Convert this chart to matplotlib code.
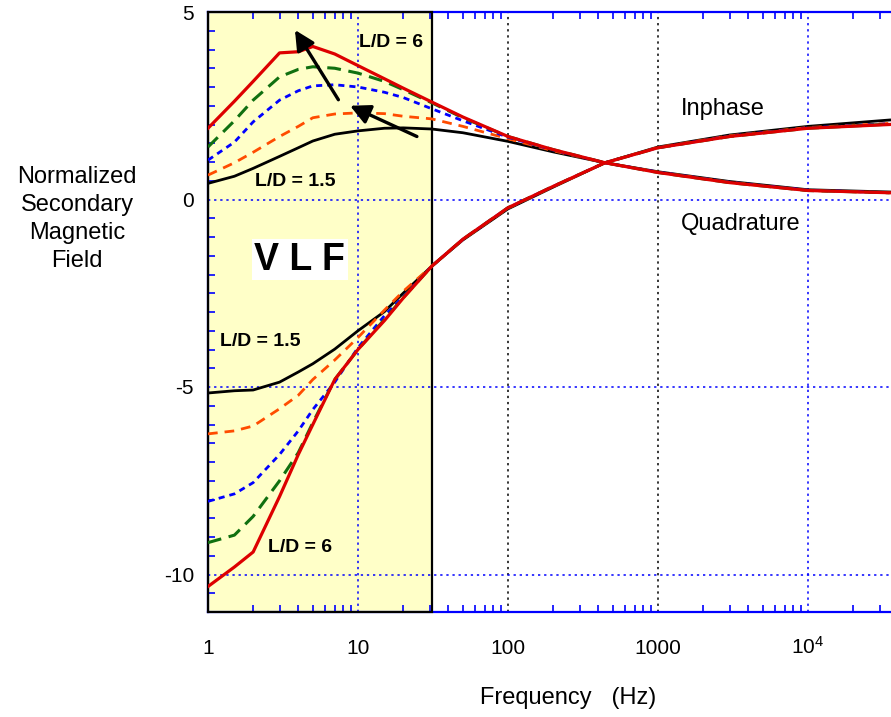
import matplotlib.pyplot as plt
from matplotlib.patches import Rectangle
from matplotlib.ticker import FixedLocator, MultipleLocator, NullFormatter

plt.rcParams['font.family'] = ['Liberation Sans', 'DejaVu Sans']
plt.rcParams['axes.unicode_minus'] = False
plt.rcParams['mathtext.default'] = 'regular'

# frequency grid (Hz)
freq = [1, 1.5, 2, 3, 4, 5, 7, 10, 15, 20, 31, 50, 100, 200, 443,
        1000, 3000, 10000, 35000]

# upper family of curves (quadrature)
quad_black = [0.43, 0.62, 0.83, 1.15, 1.38, 1.56, 1.74, 1.83, 1.9, 1.91,
              1.88, 1.78, 1.55, 1.27, 0.98, 0.74, 0.48, 0.26, 0.2]
quad_orange = [0.65, 0.98, 1.26, 1.68, 1.95, 2.18, 2.28, 2.31, 2.29, 2.22,
               2.15, 1.95, 1.62, 1.3, 0.98, 0.73, 0.46, 0.24, 0.18]
quad_blue = [1.05, 1.53, 2.07, 2.65, 2.9, 3.03, 3.06, 3.0, 2.86, 2.72,
             2.42, 2.1, 1.66, 1.32, 0.98, 0.73, 0.46, 0.25, 0.18]
quad_green = [1.4, 2.1, 2.65, 3.27, 3.47, 3.54, 3.5, 3.37, 3.15, 2.93,
              2.58, 2.18, 1.68, 1.33, 0.98, 0.72, 0.45, 0.24, 0.18]
quad_red = [1.9, 2.62, 3.15, 3.91, 3.94, 4.08, 3.88, 3.57, 3.22, 2.97,
            2.6, 2.2, 1.68, 1.33, 0.98, 0.72, 0.45, 0.24, 0.18]

# lower family of curves (inphase)
inph_black = [-5.16, -5.1, -5.08, -4.87, -4.6, -4.38, -3.99, -3.5, -2.99,
              -2.5, -1.78, -1.08, -0.25, 0.33, 0.98, 1.4, 1.72, 1.95, 2.12]
inph_orange = [-6.25, -6.17, -6.04, -5.58, -5.22, -4.8, -4.28, -3.68, -2.95,
               -2.45, -1.78, -1.07, -0.23, 0.34, 0.98, 1.39, 1.7, 1.92, 2.03]
inph_blue = [-8.05, -7.85, -7.55, -6.8, -6.17, -5.6, -4.87, -3.95, -3.1,
             -2.6, -1.78, -1.06, -0.22, 0.35, 0.98, 1.38, 1.69, 1.91, 2.02]
inph_green = [-9.15, -8.95, -8.45, -7.5, -6.75, -5.95, -4.8, -4.0, -3.2,
              -2.62, -1.78, -1.06, -0.22, 0.35, 0.98, 1.38, 1.68, 1.9, 2.01]
inph_red = [-10.32, -9.8, -9.4, -7.92, -6.8, -6.0, -4.8, -4.0, -3.23,
            -2.63, -1.78, -1.06, -0.22, 0.35, 0.98, 1.38, 1.68, 1.9, 2.0]

vlf_band = [1, 31]
x_ticks = [1, 10, 100, 1000, 10000]
x_labels = ['1', '10', '100', '1000', r'10$^{4}$']
y_ticks = [5, 0, -5, -10]

W, H = 891, 717
blue = '#0000ff'

fig = plt.figure(figsize=(W / 100, H / 100), dpi=100)
ax = fig.add_axes([208 / W, (H - 612) / H, (W - 208) / W, 600 / H])
ax.set_xscale('log')
ax.set_xlim(1, 35750)
ax.set_ylim(-11, 5)

# VLF band
ax.add_patch(Rectangle(
    (vlf_band[0], -11), vlf_band[1] - vlf_band[0], 16,
    facecolor='#ffffc8',
    edgecolor='none',
    zorder=0))
ax.add_patch(Rectangle(
    (vlf_band[0], -11), vlf_band[1] - vlf_band[0], 16,
    facecolor='none',
    edgecolor='black',
    lw=1.6,
    clip_on=False,
    zorder=3))

# grid
for xv, c in zip([10, 100, 1000, 10000], [blue, 'black', 'black', blue]):
    ax.axvline(xv, color=c, ls=(0, (1.5, 2.5)), lw=1.1, zorder=1)
for yv in [0, -5, -10]:
    ax.axhline(yv, color=blue, ls=(0, (1.5, 2.5)), lw=1.1, zorder=1)

styles = [
    ('black', '-', 2.0),
    ('#ff4c00', (0, (3.5, 2.5)), 2.0),
    (blue, (0, (2.2, 1.8)), 2.0),
    ('#107010', (0, (4.5, 2.5)), 2.2),
    ('#dd0000', '-', 2.3),
]
quad = [quad_black, quad_orange, quad_blue, quad_green, quad_red]
inph = [inph_black, inph_orange, inph_blue, inph_green, inph_red]
for (c, ls, lw), q, p in zip(styles, quad, inph):
    ax.plot(freq, q, color=c, ls=ls, lw=lw, zorder=4)
    ax.plot(freq, p, color=c, ls=ls, lw=lw, zorder=4)

# arrows
arrow = dict(arrowstyle='-|>,head_length=1.2,head_width=0.6',
             color='black', lw=2.4, shrinkA=0, shrinkB=0)
ax.annotate('', xy=(3.8, 4.52), xytext=(7.4, 2.66),
            arrowprops=arrow, zorder=5)
ax.annotate('', xy=(8.85, 2.5), xytext=(24.7, 1.68),
            arrowprops=arrow, zorder=5)

# spines and ticks
for s in ['top', 'bottom', 'left']:
    ax.spines[s].set_color(blue)
    ax.spines[s].set_linewidth(1.6)
ax.spines['right'].set_visible(False)
ax.xaxis.set_major_locator(FixedLocator(x_ticks))
ax.set_xticklabels(x_labels)
ax.xaxis.set_minor_locator(FixedLocator(
    [m * 10 ** d for d in range(0, 5) for m in range(2, 10)]))
ax.xaxis.set_minor_formatter(NullFormatter())
ax.set_yticks(y_ticks)
ax.yaxis.set_minor_locator(MultipleLocator(0.5))
ax.tick_params(axis='x', which='both', direction='in', top=True,
               colors=blue, labelcolor='black', labelsize=15)
ax.tick_params(axis='x', which='major', length=0, pad=30)
ax.tick_params(axis='x', which='minor', length=5, width=1.2)
ax.tick_params(axis='y', which='both', direction='in', colors=blue,
               labelcolor='black', labelsize=15, width=1.2)
ax.tick_params(axis='y', which='major', length=0, pad=10)
ax.tick_params(axis='y', which='minor', length=5)
for lbl in ax.get_xticklabels():
    lbl.set_verticalalignment('baseline')

# annotations
bold = dict(fontsize=14, fontweight='bold', color='black', zorder=6,
            ha='left', va='center')
ax.text(10.1, 4.18, 'L/D = 6', **bold)
ax.text(2.06, 0.48, 'L/D = 1.5', **bold)
ax.text(1.2, -3.8, 'L/D = 1.5', **bold)
ax.text(2.51, -9.28, 'L/D = 6', **bold)
ax.text(4.1, -1.6, 'V L F', fontsize=27, fontweight='bold',
        ha='center', va='center', zorder=6,
        bbox=dict(facecolor='white', edgecolor='none', pad=2))
ax.text(10 ** ((723 - 208) / 150), 2.4, 'Inphase', fontsize=17,
        ha='center', va='center', zorder=6)
ax.text(10 ** ((741 - 208) / 150), -0.66, 'Quadrature', fontsize=17,
        ha='center', va='center', zorder=6)

fig.text(77 / W, 1 - 219 / H, 'Normalized\nSecondary\nMagnetic\nField',
         fontsize=17, ha='center', va='center', linespacing=1.35)
fig.text(568 / W, 1 - 698 / H, 'Frequency   (Hz)', fontsize=17,
         ha='center', va='center')

plt.savefig('out.png', dpi=100)
plt.close(fig)
